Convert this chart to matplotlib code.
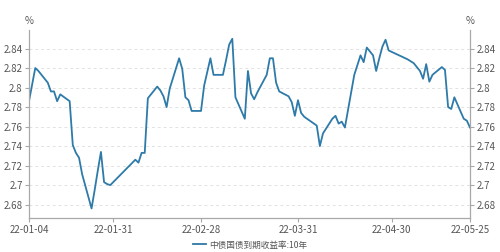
import matplotlib
matplotlib.use("Agg")
import matplotlib.pyplot as plt
import pandas as pd

plt.rcParams['font.family'] = ['Noto Sans CJK SC', 'DejaVu Sans']

# trading days (interbank market, 2022), by month
jan_days = [4, 5, 6, 7, 10, 11, 12, 13, 14, 17, 18, 19, 20, 21, 24, 25, 26, 27, 28, 29, 30]
feb_days = [7, 8, 9, 10, 11, 14, 15, 16, 17, 18, 21, 22, 23, 24, 25, 28]
mar_days = [1, 2, 3, 4, 7, 8, 9, 10, 11, 14, 15, 16, 17, 18, 21, 22, 23, 24, 25, 28, 29, 30, 31]
apr_days = [1, 2, 6, 7, 8, 11, 12, 13, 14, 15, 18, 19, 20, 21, 22, 24, 25, 26, 27, 28, 29]
may_days = [5, 6, 7, 9, 10, 11, 12, 13, 16, 17, 18, 19, 20, 23, 24, 25]

jan_vals = [2.786, 2.803, 2.820, 2.817, 2.805, 2.796, 2.796, 2.786, 2.793, 2.786, 2.741,
            2.733, 2.728, 2.711, 2.676, 2.695, 2.715, 2.734, 2.703, 2.701, 2.700]
feb_vals = [2.726, 2.723, 2.733, 2.733, 2.789, 2.801, 2.797, 2.791, 2.780, 2.799, 2.830,
            2.819, 2.790, 2.787, 2.776, 2.776]
mar_vals = [2.802, 2.816, 2.830, 2.813, 2.813, 2.828, 2.844, 2.850, 2.790, 2.768, 2.817,
            2.794, 2.788, 2.795, 2.813, 2.830, 2.830, 2.805, 2.796, 2.791, 2.785, 2.771, 2.787]
apr_vals = [2.774, 2.770, 2.761, 2.740, 2.753, 2.768, 2.771, 2.763, 2.765, 2.759, 2.813,
            2.823, 2.833, 2.826, 2.841, 2.833, 2.817, 2.830, 2.842, 2.849, 2.838]
may_vals = [2.829, 2.827, 2.825, 2.817, 2.809, 2.824, 2.806, 2.813, 2.821, 2.818, 2.780,
            2.778, 2.790, 2.768, 2.766, 2.759]

tick_labels = ['22-01-04', '22-01-31', '22-02-28', '22-03-31', '22-04-30', '22-05-25']
y_ticks = [2.68, 2.7, 2.72, 2.74, 2.76, 2.78, 2.8, 2.82, 2.84]
series_name = '中债国债到期收益率:10年'

dates = []
values = []
for month, days, vals in [(1, jan_days, jan_vals), (2, feb_days, feb_vals),
                          (3, mar_days, mar_vals), (4, apr_days, apr_vals),
                          (5, may_days, may_vals)]:
    dates += [pd.Timestamp(2022, month, d) for d in days]
    values += vals

line_color = '#2e7aa8'
axis_color = '#a8a8a8'
text_color = '#555555'

fig = plt.figure(figsize=(5, 2.52), dpi=100)
ax = fig.add_axes([0.058, 0.134, 0.882, 0.747])

ax.plot(dates, values, color=line_color, lw=1.3, label=series_name)

ax.set_xlim(pd.Timestamp('2022-01-04'), pd.Timestamp('2022-05-25'))
ax.set_ylim(2.666, 2.859)

tick_dates = [pd.Timestamp('20' + t) for t in tick_labels]
ax.set_xticks(tick_dates)
ax.set_xticklabels(tick_labels)
ax.set_yticks(y_ticks)
ax.set_yticklabels([f'{v:g}' for v in y_ticks])

ax.grid(axis='y', color='#e2e2e2', linestyle=(0, (3, 3)), lw=0.7)
ax.set_axisbelow(True)

for side in ['left', 'right', 'bottom']:
    ax.spines[side].set_color(axis_color)
    ax.spines[side].set_linewidth(0.9)
ax.spines['top'].set_visible(False)

ax.tick_params(axis='y', right=True, labelright=True, length=3, width=0.8,
               color=axis_color, labelcolor=text_color, labelsize=7, pad=1.5)
ax.tick_params(axis='x', length=3, width=0.8, color=axis_color,
               labelcolor=text_color, labelsize=7, pad=2)

fig.text(0.058, 0.918, '%', ha='center', va='center', fontsize=7, color=text_color)
fig.text(0.94, 0.918, '%', ha='center', va='center', fontsize=7, color=text_color)

fig.legend(loc='center', bbox_to_anchor=(0.5, 0.028), frameon=False, fontsize=6.2,
           handlelength=1.5, handletextpad=0.4, labelcolor=text_color)

fig.savefig('out.png', dpi=100)
